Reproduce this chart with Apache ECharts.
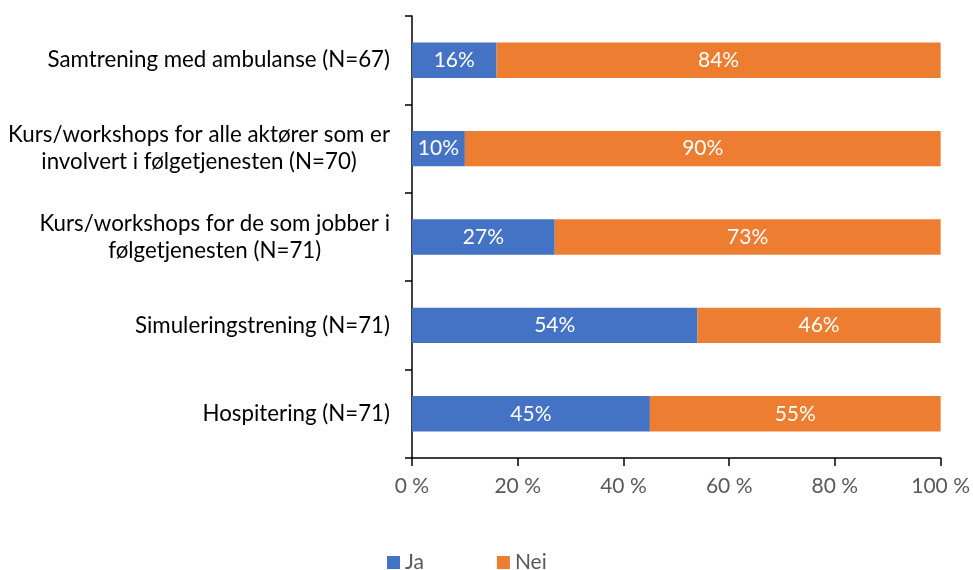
<!DOCTYPE html>
<html>
<head>
<meta charset="utf-8">
<script src="https://cdn.jsdelivr.net/npm/echarts@6/dist/echarts.min.js"></script>
<style>
  html, body { margin: 0; padding: 0; background: #fff; }
  #chart { width: 973px; height: 570px; }
</style>
</head>
<body>
<div id="chart"></div>
<script>
// Training types (top to bottom), with respondent counts
const categories = [
  'Samtrening med ambulanse (N=67)',
  'Kurs/workshops for alle aktører som er\ninvolvert i følgetjenesten (N=70)',
  'Kurs/workshops for de som jobber i\nfølgetjenesten (N=71)',
  'Simuleringstrening (N=71)',
  'Hospitering (N=71)'
];
const seriesNames = ['Ja', 'Nei'];
const jaValues = [16, 10, 27, 54, 45];
const neiValues = [84, 90, 73, 46, 55];
const xTicks = [0, 20, 40, 60, 80, 100];

const FONT = 'Lato, Carlito, "Liberation Sans", sans-serif';
const chart = echarts.init(document.getElementById('chart'));

function barSeries(name, values, color) {
  return {
    name: name,
    type: 'bar',
    stack: 'total',
    data: values,
    barCategoryGap: '60%',
    itemStyle: { color: color },
    label: {
      show: true,
      position: 'inside',
      color: '#fff',
      fontFamily: FONT,
      fontSize: 21,
      formatter: p => p.value + '%'
    }
  };
}

chart.setOption({
  animation: false,
  backgroundColor: '#fff',
  textStyle: { fontFamily: FONT },
  grid: { left: 412, right: 32, top: 16, bottom: 112, containLabel: false },
  legend: {
    data: seriesNames,
    left: 382,
    top: 547,
    itemWidth: 13,
    itemHeight: 13,
    itemGap: 73,
    icon: 'rect',
    textStyle: { color: '#595959', fontSize: 21, fontFamily: FONT }
  },
  xAxis: {
    type: 'value',
    min: xTicks[0],
    max: xTicks[xTicks.length - 1],
    interval: xTicks[1] - xTicks[0],
    axisLine: { show: true, lineStyle: { color: '#000', width: 1.5 } },
    axisTick: { show: true, length: 8, lineStyle: { color: '#000', width: 1.5 } },
    splitLine: { show: false },
    axisLabel: {
      color: '#595959',
      fontSize: 21,
      fontFamily: FONT,
      margin: 18,
      formatter: v => v + ' %'
    }
  },
  yAxis: {
    type: 'category',
    data: categories,
    inverse: true,
    axisLine: { show: true, lineStyle: { color: '#000', width: 1.5 } },
    axisTick: { show: true, length: 7, lineStyle: { color: '#000', width: 1.5 } },
    axisLabel: {
      margin: 22,
      color: '#000',
      fontSize: 22.3,
      fontFamily: FONT,
      lineHeight: 27,
      formatter: v => v.split('\n').map(s => '{c|' + s + '}').join('\n'),
      rich: {
        c: { align: 'center', fontSize: 22.3, lineHeight: 27, color: '#000', fontFamily: FONT }
      }
    }
  },
  series: [
    barSeries(seriesNames[0], jaValues, '#4472C4'),
    barSeries(seriesNames[1], neiValues, '#ED7D31')
  ]
});
</script>
</body>
</html>
